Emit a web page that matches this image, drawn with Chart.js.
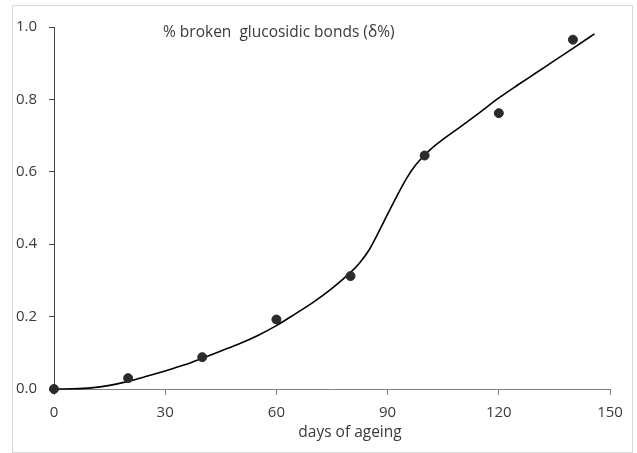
<!DOCTYPE html>
<html>
<head>
<meta charset="utf-8">
<script src="https://cdn.jsdelivr.net/npm/chart.js@4/dist/chart.umd.min.js"></script>
<style>
    html, body { margin: 0; padding: 0; background: #fff; }
    #wrap { width: 637px; height: 453px; }
</style>
</head>
<body>
<div id="wrap"><canvas id="chart" width="637" height="453"></canvas></div>
<script>
// measured points
const days = [0, 20, 40, 60, 80, 100, 120, 140];
const brokenBonds = [0, 0.03, 0.088, 0.192, 0.312, 0.645, 0.762, 0.965];

// fitted curve
const fitDays = [0, 5, 10, 15, 20, 25, 30, 35, 40, 45, 50, 55, 60, 65, 70, 75, 80, 82.5, 85, 87.5, 90, 92.5, 95, 97.5, 100, 102.5, 105, 110, 115, 120, 125, 130, 135, 140, 145.8];
const fitValues = [0, 0.0005, 0.003, 0.01, 0.021, 0.035, 0.05, 0.066, 0.085, 0.105, 0.125, 0.148, 0.175, 0.207, 0.24, 0.278, 0.322, 0.349, 0.384, 0.432, 0.483, 0.533, 0.58, 0.618, 0.646, 0.67, 0.69, 0.727, 0.765, 0.804, 0.839, 0.873, 0.907, 0.941, 0.981];

const xTicks = [0, 30, 60, 90, 120, 150];
const yTicks = [0, 0.2, 0.4, 0.6, 0.8, 1.0];

const chartTitle = '% broken  glucosidic bonds (\u03b4%)';
const xTitle = 'days of ageing';

const FONT = '"Open Sans", "DejaVu Sans", sans-serif';
const TEXT = '#3a3a3a';

// light frame round the whole chart, the in-plot caption and the x title
const framePlugin = {
    id: 'frame',
    beforeDraw(chart) {
        const c = chart.ctx;
        c.save();
        c.strokeStyle = '#d9d9d9';
        c.lineWidth = 1;
        c.strokeRect(12.5, 5.5, 620, 447);
        c.restore();
    },
    afterDraw(chart) {
        const c = chart.ctx;
        c.save();
        c.fillStyle = TEXT;
        c.font = '15.5px ' + FONT;
        c.textBaseline = 'middle';
        c.fillText(chartTitle, 163, 33);
        c.textAlign = 'center';
        c.fillText(xTitle, 350, 433);
        c.restore();
    }
};

const curve = fitDays.map((d, i) => ({ x: d, y: fitValues[i] }));
const points = days.map((d, i) => ({ x: d, y: brokenBonds[i] }));

new Chart(document.getElementById('chart'), {
    type: 'scatter',
    data: {
        datasets: [{
            label: 'fit',
            data: curve,
            showLine: true,
            borderColor: '#000',
            borderWidth: 1.6,
            cubicInterpolationMode: 'monotone',
            pointRadius: 0,
            clip: false,
            order: 1
        }, {
            label: 'measured',
            data: points,
            backgroundColor: '#2b2b2b',
            borderColor: '#2b2b2b',
            pointRadius: 4.5,
            clip: false,
            order: 0
        }]
    },
    options: {
        responsive: false,
        animation: false,
        layout: { padding: { top: 27, right: 27, bottom: 10, left: 0 } },
        plugins: {
            legend: { display: false },
            tooltip: { enabled: false }
        },
        scales: {
            x: {
                type: 'linear',
                min: 0,
                max: 150,
                afterBuildTicks: axis => { axis.ticks = xTicks.map(v => ({ value: v })); },
                afterFit: axis => { axis.height = 54; },
                grid: { drawOnChartArea: false, tickLength: 6, tickColor: '#808080', tickWidth: 1 },
                border: { color: '#808080', width: 1 },
                ticks: { color: TEXT, font: { family: FONT, size: 15 }, padding: 9, maxRotation: 0 }
            },
            y: {
                type: 'linear',
                min: 0,
                max: 1,
                afterBuildTicks: axis => { axis.ticks = yTicks.map(v => ({ value: v })); },
                afterFit: axis => { axis.width = 54; },
                grid: { drawOnChartArea: false, tickLength: 5, tickColor: '#404040', tickWidth: 1 },
                border: { color: '#404040', width: 1 },
                ticks: { color: TEXT, font: { family: FONT, size: 15 }, padding: 12, callback: v => v.toFixed(1) }
            }
        }
    },
    plugins: [framePlugin]
});
</script>
</body>
</html>
